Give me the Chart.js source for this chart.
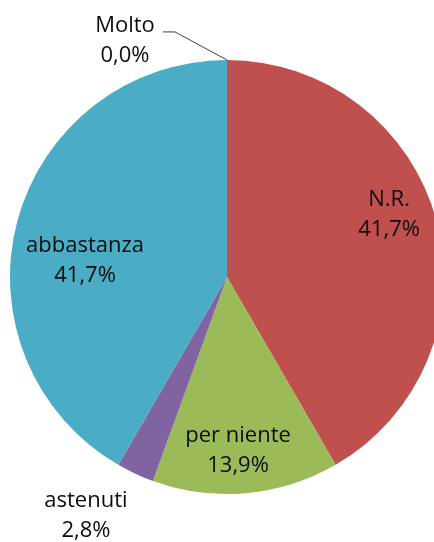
<!DOCTYPE html>
<html>
<head>
<meta charset="utf-8">
<script src="https://cdn.jsdelivr.net/npm/chart.js@4"></script>
<style>
  html, body { margin: 0; padding: 0; background: #fff; overflow: hidden; }
  #wrap { width: 434px; height: 542px; overflow: hidden; }
</style>
</head>
<body>
<div id="wrap"><canvas id="pie" width="454" height="542"></canvas></div>
<script>
// dati
const categorie = ['Molto', 'N.R.', 'per niente', 'astenuti', 'abbastanza'];
const valori    = [0.0, 41.7, 13.9, 2.8, 41.7];
const colori    = ['#4F81BD', '#C0504D', '#9BBB59', '#8064A2', '#4BACC6'];

// posizione delle etichette, in frazioni del raggio dal centro
// (stesso ordine di categorie)
const posEtichette = [
  [-0.470, -1.058],
  [ 0.747, -0.258],
  [ 0.051,  0.829],
  [-0.650,  1.129],
  [-0.654, -0.046]
];

const fmt = v => v.toFixed(1).replace('.', ',') + '%';

const etichette = {
  id: 'etichette',
  afterDatasetsDraw(chart) {
    const ctx = chart.ctx;
    const arcs = chart.getDatasetMeta(0).data;
    const a0 = arcs[1];
    const cx = a0.x, cy = a0.y, r = a0.outerRadius;
    ctx.save();
    ctx.font = '22px "Open Sans"';
    ctx.fillStyle = '#0d0d0d';
    ctx.textAlign = 'center';
    ctx.textBaseline = 'alphabetic';
    categorie.forEach((c, i) => {
      const p = posEtichette[i];
      const x = cx + p[0] * r, y = cy + p[1] * r;
      ctx.fillText(c, x, y - 15);
      ctx.fillText(fmt(valori[i]), x, y + 15);
    });
    // linea guida per "Molto"
    const m = arcs[0];
    const ex = m.x + m.outerRadius * Math.cos(m.startAngle);
    const ey = m.y + m.outerRadius * Math.sin(m.startAngle);
    const p = posEtichette[0];
    const lx = cx + p[0] * r, ly = cy + p[1] * r;
    ctx.strokeStyle = '#404040';
    ctx.lineWidth = 1;
    ctx.beginPath();
    ctx.moveTo(lx + 38, ly - 15.5);
    ctx.lineTo(lx + 50, ly - 15.5);
    ctx.lineTo(ex, ey);
    ctx.stroke();
    ctx.restore();
  }
};

new Chart(document.getElementById('pie'), {
  type: 'pie',
  data: {
    labels: categorie,
    datasets: [{
      data: valori,
      backgroundColor: colori,
      borderWidth: 0
    }]
  },
  options: {
    responsive: false,
    animation: false,
    layout: { padding: { left: 10, right: 10, top: 60, bottom: 48 } },
    plugins: {
      legend: { display: false },
      tooltip: { enabled: false }
    }
  },
  plugins: [etichette]
});
</script>
</body>
</html>
